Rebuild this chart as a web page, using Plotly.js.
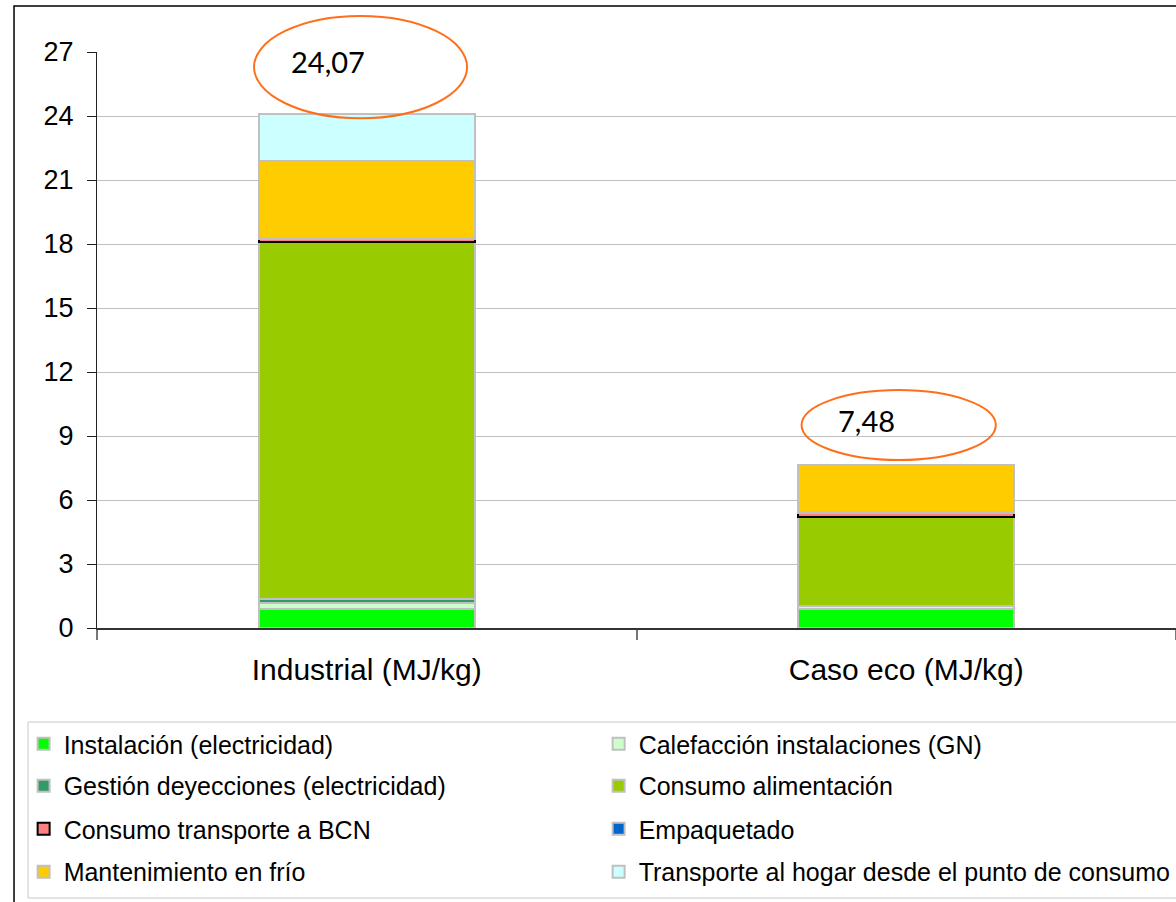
<!DOCTYPE html>
<html>
<head>
<meta charset="utf-8">
<script src="https://cdn.plot.ly/plotly-3.0.1.min.js"></script>
<style>html,body{margin:0;padding:0;background:#fff;}#chart{width:1176px;height:902px;}</style>
</head>
<body>
<div id="chart"></div>
<script>
// Categories
const categories = ['Industrial (MJ/kg)', 'Caso eco (MJ/kg)'];
// Series (MJ/kg), bottom to top of each stack
const instalacion    = [0.90, 0.90];
const calefaccion    = [0.25, 0.12];
const gestion        = [0.20, 0.00];
const alimentacion   = [16.75, 4.20];
const transporteBCN  = [0.15, 0.15];
const empaquetado    = [0.05, 0.05];
const frio           = [3.60, 2.20];
const transporteHogar= [2.20, 0.00];
// Totals shown in the call-outs
const totalLabels = ['24,07', '7,48'];
// Y tick labels
const yTicks = [0, 3, 6, 9, 12, 15, 18, 21, 24, 27];

const series = [
  {name: 'Instalación (electricidad)', y: instalacion, color: '#00FF00', line: '#C0C0C0', legend: 'legend'},
  {name: 'Calefacción instalaciones (GN)', y: calefaccion, color: '#CCFFCC', line: '#C0C0C0', legend: 'legend'},
  {name: 'Gestión deyecciones (electricidad)', y: gestion, color: '#339966', line: '#C0C0C0', legend: 'legend2'},
  {name: 'Consumo alimentación', y: alimentacion, color: '#99CC00', line: '#C0C0C0', legend: 'legend2'},
  {name: 'Consumo transporte a BCN', y: transporteBCN, color: '#FF8080', line: '#000000', legend: 'legend3'},
  {name: 'Empaquetado', y: empaquetado, color: '#0066CC', line: '#C0C0C0', legend: 'legend3'},
  {name: 'Mantenimiento en frío', y: frio, color: '#FFCC00', line: '#C0C0C0', legend: 'legend4'},
  {name: 'Transporte al hogar desde el punto de consumo', y: transporteHogar, color: '#CCFFFF', line: '#C0C0C0', legend: 'legend4'}
];

const traces = series.map(s => ({
  type: 'bar',
  name: s.name,
  x: categories,
  y: s.y,
  width: 0.4,
  legend: s.legend,
  marker: {color: s.color, line: {color: s.line, width: 2}},
  hoverinfo: 'name+y'
}));

const legendFont = {family: 'Liberation Sans, Arial, sans-serif', size: 25, color: '#000'};
function mkLegend(y) {
  return {
    orientation: 'h', x: -0.068, xanchor: 'left', y: y, yanchor: 'middle',
    entrywidth: 530, entrywidthmode: 'pixels', traceorder: 'normal',
    font: legendFont, bgcolor: 'rgba(0,0,0,0)', borderwidth: 0
  };
}

const layout = {
  width: 1176, height: 902,
  margin: {l: 97, r: 0, t: 52, b: 274, autoexpand: false},
  paper_bgcolor: '#fff', plot_bgcolor: '#fff',
  barmode: 'stack',
  showlegend: true,
  legend: mkLegend(-0.2014),
  legend2: mkLegend(-0.2743),
  legend3: mkLegend(-0.349),
  legend4: mkLegend(-0.4236),
  xaxis: {
    type: 'category', range: [-0.5, 1.5],
    showline: true, linecolor: '#333', linewidth: 2,
    ticks: 'outside', tickson: 'boundaries', ticklen: 10, tickcolor: '#777', tickwidth: 2,
    showgrid: false, ticklabelstandoff: 14,
    tickfont: {family: 'Liberation Sans, Arial, sans-serif', size: 30, color: '#000'}
  },
  yaxis: {
    range: [0, 27], tickvals: yTicks, ticktext: yTicks.map(String),
    showline: true, linecolor: '#222', linewidth: 1,
    ticks: 'outside', ticklen: 9, tickcolor: '#222',
    gridcolor: '#C0C0C0', gridwidth: 1, zeroline: false, ticklabelstandoff: 8,
    tickfont: {family: 'Liberation Sans, Arial, sans-serif', size: 27, color: '#000'}
  },
  shapes: [
    // outer chart border (cropped)
    {type: 'rect', xref: 'paper', yref: 'paper', x0: -0.0769, x1: 1.05, y0: -0.52, y1: 1.0799,
     line: {color: '#000', width: 1.5}, fillcolor: 'rgba(0,0,0,0)', layer: 'above'},
    // legend box
    {type: 'rect', xref: 'paper', yref: 'paper', x0: -0.0639, x1: 1.01, y0: -0.46875, y1: -0.1632,
     line: {color: '#C8C8C8', width: 1}, fillcolor: 'rgba(0,0,0,0)', layer: 'above'},
    // call-out ellipses
    {type: 'circle', xref: 'paper', yref: 'paper', x0: 0.1455, x1: 0.343, y0: 0.885, y1: 1.0625,
     line: {color: '#FF6F1A', width: 2}, fillcolor: 'rgba(0,0,0,0)', layer: 'above'},
    {type: 'circle', xref: 'paper', yref: 'paper', x0: 0.653, x1: 0.833, y0: 0.2917, y1: 0.413,
     line: {color: '#FF6F1A', width: 2}, fillcolor: 'rgba(0,0,0,0)', layer: 'above'}
  ],
  annotations: [
    {xref: 'paper', yref: 'paper', x: 0.214, y: 0.983, xanchor: 'center', yanchor: 'middle',
     text: totalLabels[0], showarrow: false,
     font: {family: 'Lato, Open Sans, sans-serif', size: 29, color: '#000'}},
    {xref: 'paper', yref: 'paper', x: 0.7136, y: 0.361, xanchor: 'center', yanchor: 'middle',
     text: totalLabels[1], showarrow: false,
     font: {family: 'Lato, Open Sans, sans-serif', size: 29, color: '#000'}}
  ]
};

Plotly.newPlot('chart', traces, layout, {displayModeBar: false, staticPlot: true});
</script>
</body>
</html>
